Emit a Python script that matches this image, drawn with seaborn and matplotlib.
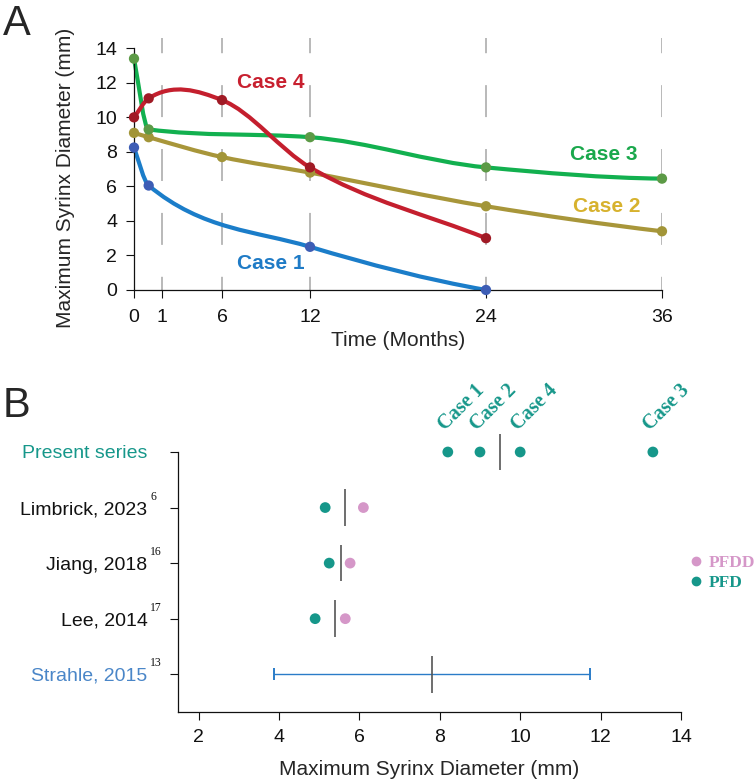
"""Syrinx diameter over time (A) and comparison with published series (B)."""

import matplotlib
matplotlib.use("Agg")
import matplotlib.pyplot as plt
import numpy as np
import pandas as pd
import seaborn as sns
from matplotlib.lines import Line2D
from matplotlib.patches import PathPatch
from matplotlib.path import Path

sns.set_style("ticks")
plt.rcParams["font.family"] = ["Liberation Sans", "DejaVu Sans"]
plt.rcParams["lines.scale_dashes"] = False

# Panel A: follow-up measurements (months, mm)
months_case1 = [0, 1, 12, 24]
diam_case1 = [8.25, 6.05, 2.5, 0.0]
months_case2 = [0, 1, 6, 12, 24, 36]
diam_case2 = [9.1, 8.85, 7.7, 6.8, 4.85, 3.4]
months_case3 = [0, 1, 12, 24, 36]
diam_case3 = [13.4, 9.3, 8.85, 7.1, 6.45]
months_case4 = [0, 1, 6, 12, 24]
diam_case4 = [10.0, 11.1, 11.0, 7.1, 3.0]

time_ticks = [0, 1.9, 6, 12, 24, 36]
time_ticklabels = ["0", "1", "6", "12", "24", "36"]

# Panel B: comparison with literature
studies = ["Present series", "Limbrick, 2023", "Jiang, 2018", "Lee, 2014", "Strahle, 2015"]
study_refs = ["", "6", "16", "17", "13"]
pfd_values = [5.15, 5.25, 4.9]          # Limbrick, Jiang, Lee
pfdd_values = [6.1, 5.77, 5.65]         # Limbrick, Jiang, Lee
pooled_values = [5.65, 5.55, 5.4]       # Limbrick, Jiang, Lee
present_cases = ["Case 1", "Case 2", "Case 4", "Case 3"]
present_values = [8.2, 9.0, 10.0, 13.3]
strahle_mean = 7.81
strahle_sd = 3.93

line_colors = {"Case 1": "#1b7dc9", "Case 2": "#a8963a", "Case 3": "#12b04f", "Case 4": "#c41f2e"}
marker_colors = {"Case 1": "#3d5db5", "Case 2": "#a29538", "Case 3": "#5c9a46", "Case 4": "#a01a25"}
text_colors = {"Case 1": "#1f7bc6", "Case 2": "#d7b22e", "Case 3": "#1aa84c", "Case 4": "#c8202f"}
TEAL = "#16978a"
PINK = "#d597c8"


def hermite_slopes(x, y, monotone=True):
    """Tangents for a smooth curve through the points (pchip or plain average)."""
    x = np.asarray(x, float)
    y = np.asarray(y, float)
    h = np.diff(x)
    d = np.diff(y) / h
    m = np.zeros(len(x))
    for i in range(1, len(x) - 1):
        if not monotone:
            m[i] = (d[i - 1] + d[i]) / 2
        elif d[i - 1] * d[i] > 0:
            w1 = 2 * h[i] + h[i - 1]
            w2 = h[i] + 2 * h[i - 1]
            m[i] = (w1 + w2) / (w1 / d[i - 1] + w2 / d[i])
    if not monotone:
        m[0], m[-1] = d[0], d[-1]
        return m

    def end(h0, h1, d0, d1):
        s = ((2 * h0 + h1) * d0 - h0 * d1) / (h0 + h1)
        if np.sign(s) != np.sign(d0):
            return 0.0
        if np.sign(d0) != np.sign(d1) and abs(s) > abs(3 * d0):
            return 3 * d0
        return s

    m[0] = end(h[0], h[1], d[0], d[1])
    m[-1] = end(h[-1], h[-2], d[-1], d[-2])
    return m


def smooth_path(x, y, monotone=True):
    """Cubic Bezier path passing through the data points."""
    m = hermite_slopes(x, y, monotone)
    verts = [(x[0], y[0])]
    codes = [Path.MOVETO]
    for i in range(len(x) - 1):
        h = (x[i + 1] - x[i]) / 3
        verts += [(x[i] + h, y[i] + m[i] * h),
                  (x[i + 1] - h, y[i + 1] - m[i + 1] * h),
                  (x[i + 1], y[i + 1])]
        codes += [Path.CURVE4] * 3
    return Path(verts, codes)


fig = plt.figure(figsize=(7.55, 7.82), dpi=100)

# ---------------- Panel A ----------------
ax_a = fig.add_axes([0.1775, 0.6292, 0.6993, 0.3223])

series = {
    "Case 1": (months_case1, diam_case1, True),
    "Case 2": (months_case2, diam_case2, True),
    "Case 3": (months_case3, diam_case3, True),
    "Case 4": (months_case4, diam_case4, False),
}

ax_a.vlines(time_ticks[1:], 0, 14.6, colors="#a5a5a5", linewidth=1.1,
            linestyles=[(13.5, (23, 23))], zorder=0)

for name in ["Case 2", "Case 3", "Case 4", "Case 1"]:
    mx, my, mono = series[name]
    patch = PathPatch(smooth_path(mx, my, mono), facecolor="none",
                      edgecolor=line_colors[name], linewidth=3.0,
                      capstyle="round", zorder=2, clip_on=False)
    ax_a.add_patch(patch)

long_a = pd.concat([
    pd.DataFrame({"case": name, "month": mx, "diameter": my})
    for name, (mx, my, _) in series.items()
], ignore_index=True)
sns.scatterplot(data=long_a, x="month", y="diameter", hue="case",
                palette=marker_colors, s=55, edgecolor="none", legend=False,
                zorder=3, clip_on=False, ax=ax_a)

label_spots = {"Case 4": (9.3, 12.0), "Case 1": (9.3, 1.56),
               "Case 3": (32.0, 7.86), "Case 2": (32.2, 4.86)}
for name, (tx, ty) in label_spots.items():
    ax_a.text(tx, ty, name, color=text_colors[name], fontsize=15,
              fontweight="bold", ha="center", va="center")

ax_a.set_xlim(0, 36)
ax_a.set_ylim(0, 14.6)
ax_a.set_xticks(time_ticks)
ax_a.set_xticklabels(time_ticklabels)
ax_a.set_yticks(range(0, 15, 2))
ax_a.spines["left"].set_bounds(0, 14)
sns.despine(ax=ax_a)
ax_a.tick_params(labelsize=14, length=6, width=0.8, colors="#111111")
ax_a.tick_params(axis="x", pad=8)
ax_a.tick_params(axis="y", pad=6)
ax_a.set_xlabel("Time (Months)", fontsize=15, labelpad=3)
ax_a.set_ylabel("Maximum Syrinx Diameter (mm)", fontsize=15)
ax_a.yaxis.set_label_coords(-0.112, 0.444)
for sp in ax_a.spines.values():
    sp.set_linewidth(0.9)
    sp.set_color("#111111")

# ---------------- Panel B ----------------
ax_b = fig.add_axes([0.2358, 0.0895, 0.6662, 0.3325])

lit_rows = [1, 2, 3]
long_b = pd.DataFrame({
    "row": lit_rows * 2,
    "diameter": pfd_values + pfdd_values,
    "group": ["PFD"] * 3 + ["PFDD"] * 3,
})
sns.scatterplot(data=long_b, x="diameter", y="row", hue="group",
                palette={"PFD": TEAL, "PFDD": PINK}, s=60, edgecolor="none",
                legend=False, zorder=3, ax=ax_b)

present_df = pd.DataFrame({"case": present_cases, "diameter": present_values, "row": 0})
sns.scatterplot(data=present_df, x="diameter", y="row", color=TEAL, s=60,
                edgecolor="none", zorder=3, clip_on=False, ax=ax_b)
for name, val in zip(present_cases, present_values):
    ax_b.annotate(name, xy=(val, 0), xytext=(1, 17), textcoords="offset pixels",
                  rotation=45, rotation_mode="anchor", ha="left", va="bottom",
                  color=TEAL, fontsize=14.5, fontweight="bold",
                  family=["Liberation Serif", "DejaVu Serif"], annotation_clip=False)

centre_x = [np.median(present_values)] + pooled_values + [strahle_mean]
ax_b.vlines(centre_x, np.arange(5) - 0.33, np.arange(5) + 0.33,
            colors="#555555", linewidth=1.2, zorder=2, clip_on=False)

ax_b.errorbar(strahle_mean, 4, xerr=strahle_sd, fmt="none", ecolor="#2a7cc8",
              elinewidth=1.0, capsize=4, capthick=1.4, zorder=1)

ax_b.set_xlim(1.49, 14)
ax_b.set_ylim(4.68, 0)
ax_b.set_xticks(range(2, 15, 2))
ax_b.set_yticks(range(5))
ax_b.set_yticklabels(studies)
sns.despine(ax=ax_b)
ax_b.tick_params(axis="x", labelsize=14, length=6, width=0.8, pad=6, colors="#111111")
ax_b.tick_params(axis="y", labelsize=14, length=6, width=0.8, pad=16, colors="#111111")
for sp in ax_b.spines.values():
    sp.set_linewidth(0.9)
    sp.set_color("#111111")
label_cols = [TEAL, "#111111", "#111111", "#111111", "#4a86c8"]
for lab, col in zip(ax_b.get_yticklabels(), label_cols):
    lab.set_color(col)
for row, ref in enumerate(study_refs):
    if ref:
        ax_b.annotate(ref, xy=(0, row), xycoords=("axes fraction", "data"),
                      xytext=(-28, 11), textcoords="offset pixels",
                      ha="left", va="center", fontsize=8.5, color="#111111",
                      family=["Liberation Serif", "DejaVu Serif"])
ax_b.set_xlabel("Maximum Syrinx Diameter (mm)", fontsize=15, labelpad=10)
ax_b.set_ylabel("")

handles = [Line2D([], [], marker="o", linestyle="none", color=PINK, markersize=6),
           Line2D([], [], marker="o", linestyle="none", color=TEAL, markersize=6)]
ax_b.legend(handles, ["PFDD", "PFD"], loc="center left", bbox_to_anchor=(1.0, 0.535),
            frameon=False, handlelength=0.6, handletextpad=0.45, labelspacing=0.25,
            borderaxespad=0.35, borderpad=0.2, labelcolor="markerfacecolor",
            prop={"family": ["Liberation Serif", "DejaVu Serif"], "weight": "bold", "size": 12.5})

fig.text(0.004, 0.995, "A", fontsize=30, va="top", ha="left")
fig.text(0.004, 0.507, "B", fontsize=30, va="top", ha="left")

fig.savefig("out.png", dpi=100)
